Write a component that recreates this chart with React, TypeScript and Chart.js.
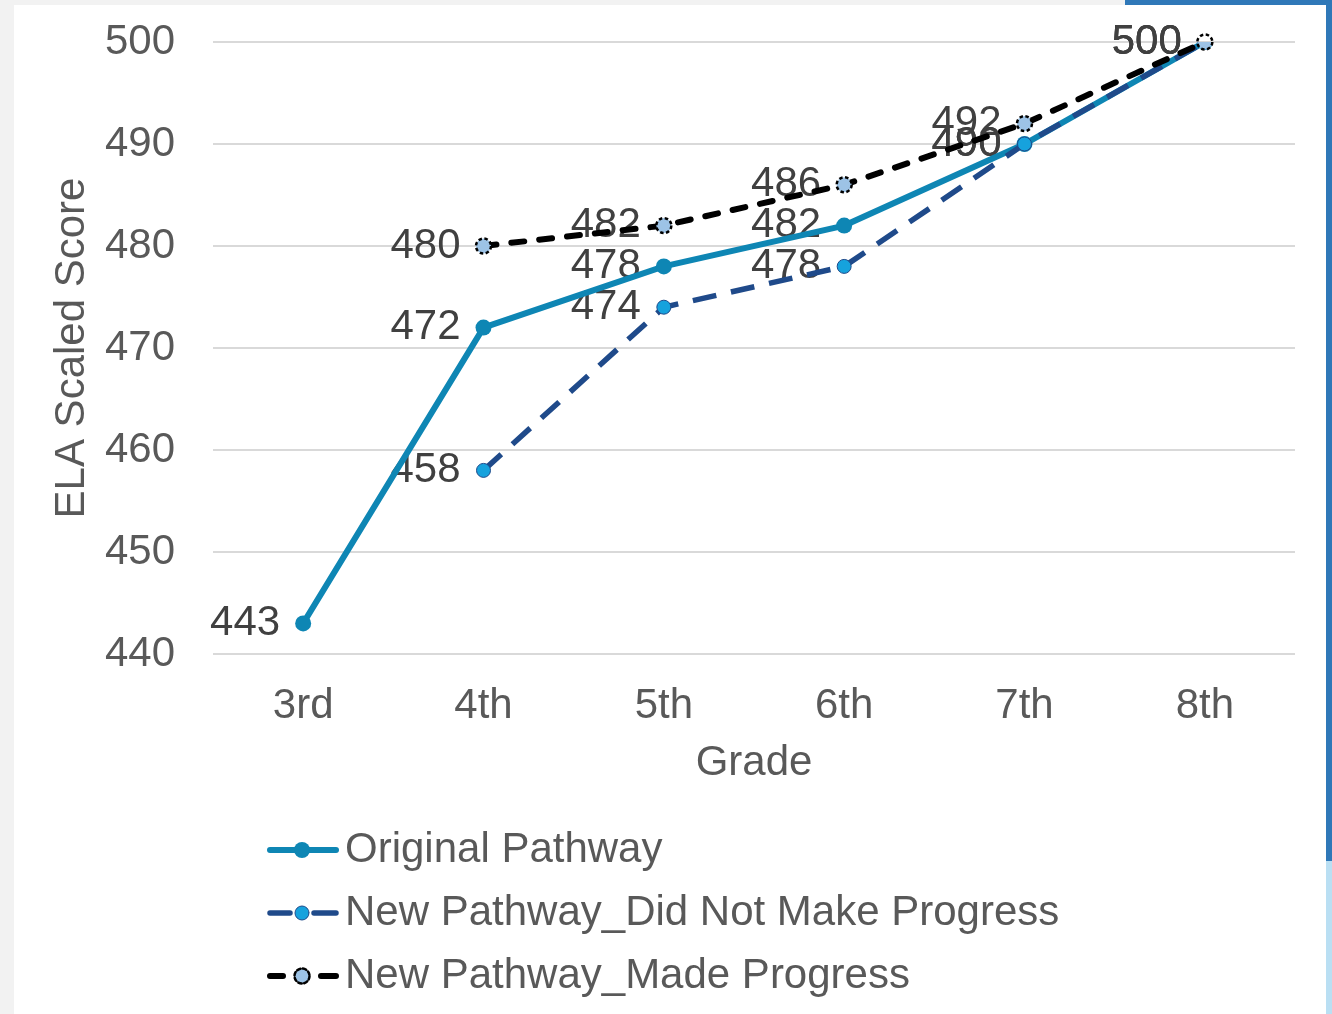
import React, { useEffect, useRef } from 'react';
import { Chart, registerables } from 'chart.js';

Chart.register(...registerables);

const grades = ['3rd', '4th', '5th', '6th', '7th', '8th'];
const originalPathway = [443, 472, 478, 482, 490, 500];
const didNotMakeProgress = [null, 458, 474, 478, 490, 500];
const madeProgress = [null, 480, 482, 486, 492, 500];
const yTicks = { min: 440, max: 500, step: 10 };

const FONT = "'Liberation Sans', Arial, sans-serif";
const TEAL = '#0E86B4';
const NAVY = '#1F4A8A';
const BRIGHT = '#16A2DD';
const LIGHT = '#9DC3E6';
const AXIS_TEXT = '#595959';
const LABEL_TEXT = '#404040';

export default function App() {
  const ref = useRef<HTMLCanvasElement>(null);

  useEffect(() => {
    if (!ref.current) return;
    Chart.defaults.font.family = FONT;

    const valueLabels = {
      id: 'valueLabels',
      beforeDatasetsDraw(chart: any) {
        const ctx = chart.ctx;
        ctx.save();
        ctx.font = `42px ${FONT}`;
        ctx.fillStyle = LABEL_TEXT;
        ctx.textAlign = 'right';
        ctx.textBaseline = 'middle';
        chart.data.datasets.forEach((ds: any, i: number) => {
          const meta = chart.getDatasetMeta(i);
          meta.data.forEach((pt: any, j: number) => {
            const v = ds.data[j];
            if (v == null) return;
            ctx.fillText(String(v), pt.x - 23, pt.y);
          });
        });
        ctx.restore();
      },
    };

    const dashedMarkers = {
      id: 'dashedMarkers',
      afterDatasetsDraw(chart: any) {
        const ctx = chart.ctx;
        const meta = chart.getDatasetMeta(2);
        const r = chart.data.datasets[2].pointRadius;
        ctx.save();
        ctx.strokeStyle = '#000000';
        ctx.lineWidth = 2.5;
        ctx.setLineDash([3.5, 2.5]);
        meta.data.forEach((pt: any, j: number) => {
          if (chart.data.datasets[2].data[j] == null) return;
          ctx.beginPath();
          ctx.arc(pt.x, pt.y, r, 0, Math.PI * 2);
          ctx.stroke();
        });
        ctx.restore();
      },
    };

    const stackedLegend = {
      id: 'stackedLegend',
      afterDraw(chart: any) {
        const ctx = chart.ctx;
        const x0 = 270;
        const x1 = 336;
        const px = 302;
        const tx = 345;
        const rows = [850, 913, 976];
        ctx.save();
        ctx.font = `42px ${FONT}`;
        ctx.textBaseline = 'middle';
        ctx.textAlign = 'left';
        chart.data.datasets.forEach((ds: any, i: number) => {
          const y = rows[i];
          ctx.save();
          ctx.lineCap = 'round';
          ctx.strokeStyle = ds.borderColor;
          ctx.lineWidth = ds.borderWidth;
          ctx.beginPath();
          if (i === 0) {
            ctx.moveTo(x0, y);
            ctx.lineTo(x1, y);
          } else if (i === 1) {
            ctx.moveTo(x0, y);
            ctx.lineTo(290, y);
            ctx.moveTo(314, y);
            ctx.lineTo(x1, y);
          } else {
            ctx.moveTo(x0, y);
            ctx.lineTo(283, y);
            ctx.moveTo(321, y);
            ctx.lineTo(x1, y);
          }
          ctx.stroke();
          ctx.beginPath();
          ctx.arc(px, y, ds.pointRadius, 0, Math.PI * 2);
          ctx.fillStyle = ds.pointBackgroundColor;
          ctx.fill();
          if (i === 1) {
            ctx.lineWidth = 1;
            ctx.strokeStyle = NAVY;
            ctx.stroke();
          } else if (i === 2) {
            ctx.lineWidth = 2.5;
            ctx.strokeStyle = '#000';
            ctx.setLineDash([3.5, 2.5]);
            ctx.stroke();
          }
          ctx.restore();
          ctx.fillStyle = AXIS_TEXT;
          ctx.fillText(ds.label, tx, y);
        });
        ctx.restore();
      },
    };

    const chart = new Chart(ref.current, {
      type: 'line',
      data: {
        labels: grades,
        datasets: [
          {
            label: 'Original Pathway',
            data: originalPathway,
            borderColor: TEAL,
            backgroundColor: TEAL,
            borderWidth: 6,
            pointRadius: 8,
            pointBackgroundColor: TEAL,
            pointBorderWidth: 0,
            order: 2,
          },
          {
            label: 'New Pathway_Did Not Make Progress',
            data: didNotMakeProgress,
            borderColor: NAVY,
            backgroundColor: BRIGHT,
            borderWidth: 5.5,
            borderDash: [24, 15],
            pointRadius: 7,
            pointBackgroundColor: BRIGHT,
            pointBorderColor: NAVY,
            pointBorderWidth: 1,
            spanGaps: false,
            order: 1,
          },
          {
            label: 'New Pathway_Made Progress',
            data: madeProgress,
            borderColor: '#000000',
            backgroundColor: LIGHT,
            borderWidth: 6,
            borderDash: [13, 15],
            borderCapStyle: 'round',
            pointRadius: 7.5,
            pointBackgroundColor: LIGHT,
            pointBorderWidth: 0,
            order: 0,
          },
        ] as any,
      },
      options: {
        responsive: false,
        animation: false,
        devicePixelRatio: 1,
        layout: { padding: { left: 0, top: 42, right: 37, bottom: 220 } },
        plugins: {
          legend: { display: false },
          tooltip: { enabled: false },
        },
        scales: {
          x: {
            offset: true,
            grid: { display: false, drawTicks: false },
            border: { display: false },
            ticks: { color: AXIS_TEXT, font: { size: 42 }, padding: 27 },
            title: {
              display: true,
              text: 'Grade',
              color: AXIS_TEXT,
              font: { size: 42 },
              padding: { top: 0, bottom: 5 },
            },
            afterFit: (s: any) => {
              s.height = 140;
            },
          },
          y: {
            min: yTicks.min,
            max: yTicks.max,
            ticks: { stepSize: yTicks.step, color: AXIS_TEXT, font: { size: 42 }, padding: 38 },
            grid: { color: '#D9D9D9', lineWidth: 2, drawTicks: false },
            border: { display: false },
            title: {
              display: true,
              text: 'ELA Scaled Score',
              color: AXIS_TEXT,
              font: { size: 42 },
              padding: { top: 47, bottom: 0 },
            },
            afterFit: (s: any) => {
              s.width = 213;
              s.paddingTop = 0;
              s.paddingBottom = 0;
            },
          },
        },
      } as any,
      plugins: [valueLabels, dashedMarkers, stackedLegend],
    });

    return () => chart.destroy();
  }, []);

  return (
    <div style={{ position: 'fixed', left: 0, top: 0, width: 1332, height: 1014, background: '#F2F2F2', overflow: 'hidden' }}>
      <div style={{ position: 'absolute', left: 14, top: 5, width: 1318, height: 1009, background: '#FFFFFF' }} />
      <canvas
        ref={ref}
        width={1332}
        height={1014}
        style={{ position: 'absolute', left: 0, top: 0, width: 1332, height: 1014 }}
      />
      <div style={{ position: 'absolute', left: 1125, top: 0, width: 207, height: 5, background: '#2F78B8' }} />
      <div style={{ position: 'absolute', left: 1326, top: 0, width: 6, height: 861, background: '#2F78B8' }} />
      <div style={{ position: 'absolute', left: 1326, top: 861, width: 6, height: 153, background: '#BADFF3' }} />
    </div>
  );
}
